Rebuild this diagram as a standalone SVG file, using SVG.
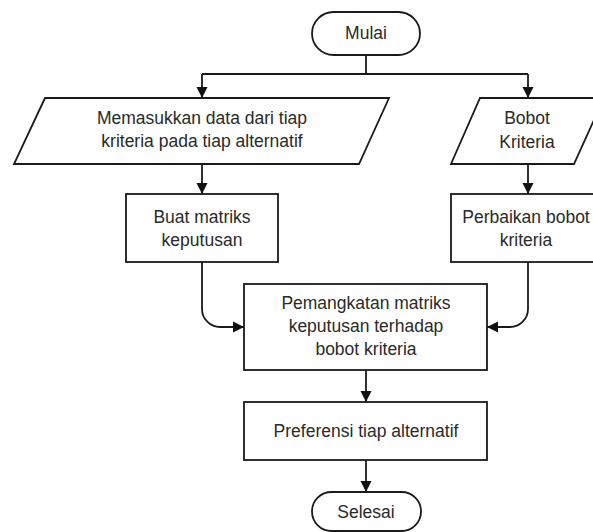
<svg xmlns="http://www.w3.org/2000/svg" width="593" height="532" viewBox="0 0 593 532">
<defs>
<style>
.s{fill:#ffffff;stroke:#1a1a1a;stroke-width:1.8}
.c{fill:none;stroke:#1a1a1a;stroke-width:1.8}
text{font-family:"Liberation Sans",Arial,sans-serif;font-size:17.5px;fill:#2a2a2a;text-anchor:middle}
</style>
<marker id="ah" markerUnits="userSpaceOnUse" markerWidth="12" markerHeight="12" refX="11" refY="6" orient="auto">
<path d="M0,0.5 L11,6 L0,11.5 z" fill="#111"/>
</marker>
</defs>
<rect width="593" height="532" fill="#ffffff"/>
<g id="connectors">
<path class="c" d="M366,55 V74"/>
<path class="c" d="M202,74 H528"/>
<path class="c" d="M202,74 V98" marker-end="url(#ah)"/>
<path class="c" d="M528,74 V98" marker-end="url(#ah)"/>
<path class="c" d="M202,164 V194" marker-end="url(#ah)"/>
<path class="c" d="M528,164 V194" marker-end="url(#ah)"/>
<path class="c" d="M202,262 V309 A18,18 0 0 0 220,327 H244" marker-end="url(#ah)"/>
<path class="c" d="M528,262 V309 A18,18 0 0 1 510,327 H487" marker-end="url(#ah)"/>
<path class="c" d="M366,370 V402" marker-end="url(#ah)"/>
<path class="c" d="M366,460 V492" marker-end="url(#ah)"/>
</g>
<g id="mulai">
<rect class="s" x="312" y="12" width="108" height="43" rx="21.5"/>
<text x="366" y="39">Mulai</text>
</g>
<g id="input-data">
<polygon class="s" points="45,98 389,98 359,164 14,164"/>
<text x="202" y="124">Memasukkan data dari tiap</text>
<text x="202" y="147">kriteria pada tiap alternatif</text>
</g>
<g id="bobot-kriteria">
<polygon class="s" points="480,98 604,98 574,164 451,164"/>
<text x="527" y="124">Bobot</text>
<text x="527" y="148">Kriteria</text>
</g>
<g id="buat-matriks">
<rect class="s" x="126" y="194" width="152" height="68"/>
<text x="202" y="223">Buat matriks</text>
<text x="202" y="246">keputusan</text>
</g>
<g id="perbaikan-bobot">
<rect class="s" x="451" y="194" width="154" height="68"/>
<text x="526" y="223">Perbaikan bobot</text>
<text x="526" y="246">kriteria</text>
</g>
<g id="pemangkatan">
<rect class="s" x="244" y="284" width="243" height="86"/>
<text x="366" y="309">Pemangkatan matriks</text>
<text x="366" y="332">keputusan terhadap</text>
<text x="366" y="355">bobot kriteria</text>
</g>
<g id="preferensi">
<rect class="s" x="244" y="402" width="243" height="58"/>
<text x="366" y="437">Preferensi tiap alternatif</text>
</g>
<g id="selesai">
<rect class="s" x="312" y="492" width="109" height="39" rx="19.5"/>
<text x="366" y="518">Selesai</text>
</g>
</svg>
